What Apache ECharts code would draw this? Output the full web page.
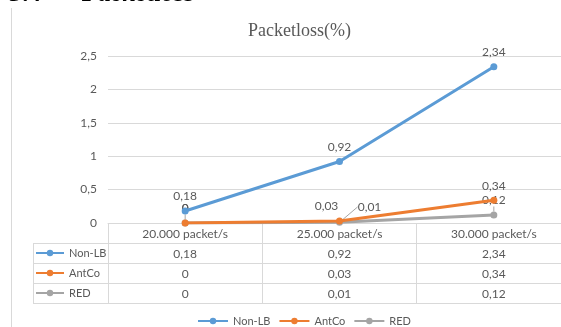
<!DOCTYPE html>
<html>
<head>
<meta charset="utf-8">
<script src="https://cdn.jsdelivr.net/npm/echarts@6/dist/echarts.min.js"></script>
<style>
  html, body { margin: 0; padding: 0; background: #fff; }
  #chart { width: 561px; height: 327px; }
</style>
</head>
<body>
<div id="chart"></div>
<script>
// Load levels and packet loss (%) per balancing method
const categories = ['20.000 packet/s', '25.000 packet/s', '30.000 packet/s'];
const seriesNames = ['Non-LB', 'AntCo', 'RED'];
const nonLB = [0.18, 0.92, 2.34];
const antCo = [0, 0.03, 0.34];
const red = [0, 0.01, 0.12];
const yMin = 0, yMax = 2.5, yStep = 0.5;

const seriesValues = [nonLB, antCo, red];
const colors = ['#5B9BD5', '#ED7D31', '#A5A5A5'];
const textColor = '#595959';
const lineColor = '#D9D9D9';
const font = 'Lato, "Liberation Sans", sans-serif';
const fs = 12;

// decimal comma, as in the source workbook
const fmt = v => String(v).replace('.', ',');

const chart = echarts.init(document.getElementById('chart'), null, { renderer: 'canvas' });

const ROW = 20;
// data-table rows rendered as extra category axes below the plot
const tableAxes = seriesValues.map((vals, r) => ({
  type: 'category', gridIndex: 0, data: categories, position: 'bottom',
  offset: ROW * (r + 1),
  axisLine: { show: true, lineStyle: { color: lineColor, width: 1 } },
  axisTick: { show: false },
  axisLabel: { margin: 5, color: textColor, fontSize: fs, fontFamily: font,
    formatter: (v, i) => fmt(vals[i]) },
  splitLine: { show: false }
}));
tableAxes.push({
  type: 'category', gridIndex: 0, data: categories, position: 'bottom',
  offset: ROW * 4,
  axisLine: { show: true, lineStyle: { color: lineColor, width: 1 } },
  axisTick: { show: false }, axisLabel: { show: false }, splitLine: { show: false }
});

const series = seriesValues.map((vals, s) => ({
  name: seriesNames[s],
  type: 'line',
  xAxisIndex: 0, yAxisIndex: 0,
  data: vals.map((v, i) => {
    const item = { value: v };
    if (s === 1 && i === 1) item.label = { offset: [-13, 0] };
    return item;
  }),
  symbol: 'circle', symbolSize: 7,
  lineStyle: { width: 3, color: colors[s] },
  itemStyle: { color: colors[s] },
  label: { show: true, position: 'top', distance: 5, color: textColor, fontSize: fs,
    fontFamily: font, formatter: p => fmt(p.value) },
  labelLine: { show: s === 2, lineStyle: { color: '#A6A6A6', width: 1 }, length2: 0 },
  labelLayout: s === 2 ? (p => p.dataIndex === 1 ? { dx: 30, dy: -1 } : {}) : undefined,
  emphasis: { disabled: true },
  z: 3 - s
}));

const legendText = { color: textColor, fontSize: 11, fontFamily: font, lineHeight: 20 };

chart.setOption({
  animation: false,
  backgroundColor: '#fff',
  color: colors,
  title: {
    text: 'Packetloss(%)', left: 243, top: 17,
    textStyle: { fontFamily: '"Liberation Serif", serif', fontWeight: 'normal', fontSize: 18, color: textColor }
  },
  grid: { left: 108, right: -10, top: 56, bottom: 104, containLabel: false, outerBoundsMode: 'none' },
  legend: [
    {
      data: seriesNames, orient: 'horizontal', left: 197, top: 311, padding: 0,
      itemWidth: 30, itemHeight: 8, itemGap: 8,
      textStyle: legendText, selectedMode: false
    },
    {
      data: seriesNames, orient: 'vertical', left: 35, top: 243, padding: 0,
      itemWidth: 28, itemHeight: 8, itemGap: 0,
      textStyle: legendText, selectedMode: false
    }
  ],
  xAxis: [{
    type: 'category', gridIndex: 0, data: categories, position: 'bottom', boundaryGap: true,
    axisLine: { show: true, lineStyle: { color: lineColor, width: 1 } },
    axisTick: { show: true, inside: false, length: ROW * 4, lineStyle: { color: lineColor } },
    axisLabel: { margin: 5, color: textColor, fontSize: fs, fontFamily: font },
    splitLine: { show: false }
  }].concat(tableAxes),
  yAxis: {
    type: 'value', min: yMin, max: yMax, interval: yStep,
    axisLine: { show: false }, axisTick: { show: false },
    axisLabel: { margin: 11, color: textColor, fontSize: fs, fontFamily: font, formatter: v => fmt(v) },
    splitLine: { lineStyle: { color: lineColor, width: 1 } }
  },
  series: series,
  graphic: [
    // chart frame edge
    { type: 'line', shape: { x1: 11.5, y1: 8, x2: 11.5, y2: 327 }, style: { stroke: lineColor, lineWidth: 1 }, silent: true },
    // section heading above the chart
    { type: 'text', x: 10, y: 7, style: { text: '3.4', fontFamily: '"Liberation Serif", serif', fontSize: 26, fontWeight: 'bold', fontStyle: 'italic', fill: '#000', verticalAlign: 'bottom' }, silent: true },
    { type: 'text', x: 82, y: 7, style: { text: 'Packetloss', fontFamily: '"Liberation Serif", serif', fontSize: 26, fontWeight: 'bold', fontStyle: 'italic', fill: '#000', verticalAlign: 'bottom' }, silent: true },
    // legend-key column of the data table
    { type: 'line', shape: { x1: 33.5, y1: 243, x2: 33.5, y2: 303 }, style: { stroke: lineColor, lineWidth: 1 }, silent: true },
    { type: 'line', shape: { x1: 33, y1: 243.5, x2: 108, y2: 243.5 }, style: { stroke: lineColor, lineWidth: 1 }, silent: true },
    { type: 'line', shape: { x1: 33, y1: 263.5, x2: 108, y2: 263.5 }, style: { stroke: lineColor, lineWidth: 1 }, silent: true },
    { type: 'line', shape: { x1: 33, y1: 283.5, x2: 108, y2: 283.5 }, style: { stroke: lineColor, lineWidth: 1 }, silent: true },
    { type: 'line', shape: { x1: 33, y1: 303.5, x2: 108, y2: 303.5 }, style: { stroke: lineColor, lineWidth: 1 }, silent: true }
  ]
});
</script>
</body>
</html>
